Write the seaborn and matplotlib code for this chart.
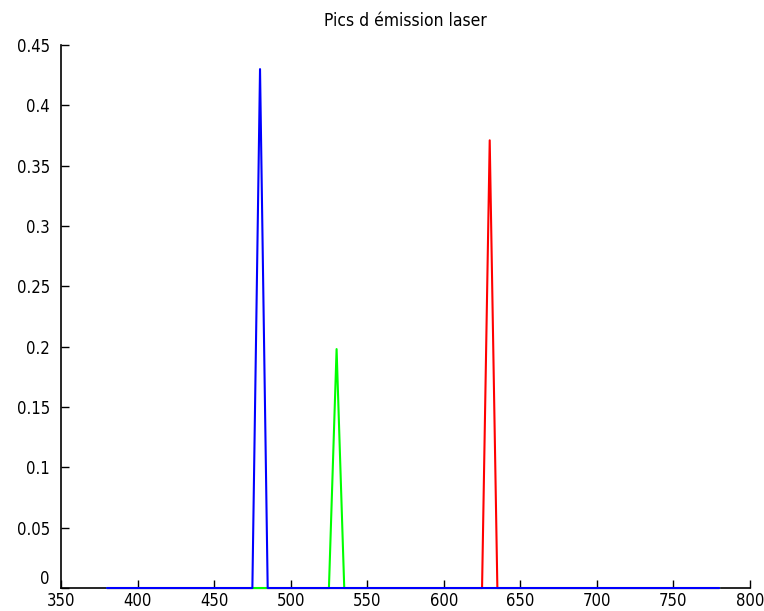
import matplotlib
matplotlib.use("Agg")
import matplotlib.pyplot as plt
import seaborn as sns

# Laser emission peaks (wavelength nm, intensity)
red_x = [380, 625, 630, 635, 780]
red_y = [0, 0, 0.371, 0, 0]
green_x = [380, 525, 530, 535, 780]
green_y = [0, 0, 0.198, 0, 0]
blue_x = [380, 475, 480, 485, 780]
blue_y = [0, 0, 0.43, 0, 0]

x_ticks = [350, 400, 450, 500, 550, 600, 650, 700, 750, 800]
y_ticks = [0, 0.05, 0.1, 0.15, 0.2, 0.25, 0.3, 0.35, 0.4, 0.45]
y_labels = ["0", "0.05", "0.1", "0.15", "0.2", "0.25", "0.3", "0.35", "0.4", "0.45"]

sns.set_style("ticks")
plt.rcParams['font.family'] = ['DejaVu Sans']
plt.rcParams['font.stretch'] = 'condensed'

fig = plt.figure(figsize=(7.64, 6.11), dpi=100)
ax = fig.add_axes([0.0798, 0.0376, 0.9019, 0.8888])

for xs, ys, c in [(red_x, red_y, (1, 0, 0)), (green_x, green_y, (0, 1, 0)), (blue_x, blue_y, (0, 0, 1))]:
    sns.lineplot(x=xs, y=ys, color=c, linewidth=1.5, estimator=None, sort=False, ax=ax)
for line in ax.lines:
    line.set_zorder(3)
    line.set_clip_on(False)

ax.set_xlim(350, 800)
ax.set_ylim(0, 0.45)
ax.set_xticks(x_ticks)
ax.set_xticklabels([str(v) for v in x_ticks])
ax.set_yticks(y_ticks)
ax.set_yticklabels(y_labels)
ax.tick_params(direction="in", length=6, width=1, labelsize=12, colors="black")
ax.tick_params(axis="y", pad=8)
ax.tick_params(axis="x", pad=3)
for s in ["top", "right"]:
    ax.spines[s].set_visible(False)
for s in ["left", "bottom"]:
    ax.spines[s].set_linewidth(1.2)
    ax.spines[s].set_color("black")
# lift the y "0" label a little so it clears the x labels
ax.get_yticklabels()[0].set_verticalalignment("bottom")

ax.set_title("Pics d émission laser", fontsize=12.5, pad=14, color="black")

fig.savefig("out.png", dpi=100)
